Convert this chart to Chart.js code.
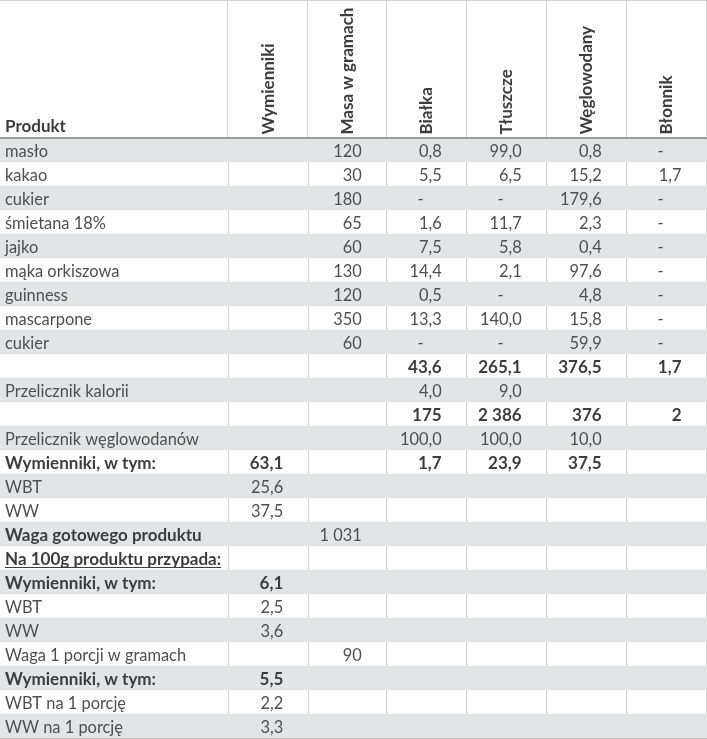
<!DOCTYPE html>
<html><head><meta charset="utf-8">
<script src="https://cdn.jsdelivr.net/npm/chart.js@4.4.1/dist/chart.umd.min.js"></script>
<style>html,body{margin:0;padding:0;background:#fff;overflow:hidden}canvas{display:block}</style>
</head><body>
<canvas id="c" width="707" height="739" style="width:707px;height:739px"></canvas>
<script>
// ---- data ----
const rowLabels = ['masło','kakao','cukier','śmietana 18%','jajko','mąka orkiszowa','guinness','mascarpone','cukier','',
  'Przelicznik kalorii','','Przelicznik węglowodanów','Wymienniki, w tym:','WBT','WW','Waga gotowego produktu',
  'Na 100g produktu przypada:','Wymienniki, w tym:','WBT','WW','Waga 1 porcji w gramach','Wymienniki, w tym:','WBT na 1 porcję','WW na 1 porcję'];
const headers = ['Wymienniki','Masa w gramach','Białka','Tłuszcze','Węglowodany','Błonnik'];
const wymienniki = [null,null,null,null,null,null,null,null,null,null,null,null,null,63.1,25.6,37.5,null,null,6.1,2.5,3.6,null,5.5,2.2,3.3];
const masa = [120,30,180,65,60,130,120,350,60,null,null,null,null,null,null,null,1031,null,null,null,null,90,null,null,null];
const bialka = [0.8,5.5,0,1.6,7.5,14.4,0.5,13.3,0,43.6,4.0,175,100.0,1.7,null,null,null,null,null,null,null,null,null,null,null];
const tluszcze = [99.0,6.5,0,11.7,5.8,2.1,0,140.0,0,265.1,9.0,2386,100.0,23.9,null,null,null,null,null,null,null,null,null,null,null];
const weglowodany = [0.8,15.2,179.6,2.3,0.4,97.6,4.8,15.8,59.9,376.5,null,376,10.0,37.5,null,null,null,null,null,null,null,null,null,null,null];
const blonnik = [0,1.7,0,0,0,0,0,0,0,1.7,null,2,null,null,null,null,null,null,null,null,null,null,null,null,null];
const boldLabelRows = [13,16,17,18,22];
const underlineLabelRows = [17];
const boldValueRows = [9,11,13,18,22];
const integerRows = [11];
const integerColumns = [1];

const columns = [wymienniki, masa, bialka, tluszcze, weglowodany, blonnik];

// ---- layout / style ----
const colEdges = [0, 228.3, 308.3, 386.7, 466.7, 546.7, 626.7, 706.5];
const HEADER_H = 138;
const STRIPE = '#e3e4e6';
const TXT = '#4f4f4f';
const TXT_B = '#3d3d3d';
const GRID = '#d0d0d0';
const DARK = '#808080';

function fmt(v, row, col) {
  if (v === null || v === undefined) return '';
  if (v === 0) return '-';
  const dec = (integerRows.includes(row) || integerColumns.includes(col)) ? 0 : 1;
  let s = v.toFixed(dec);
  let [ip, fp] = s.split('.');
  ip = ip.replace(/\B(?=(\d{3})+(?!\d))/g, ' ');
  return fp ? ip + ',' + fp : ip;
}

const stripeData = rowLabels.map((_, i) => i % 2 === 0 ? [0, 707] : null);

const FAMILY = 'Lato, "Open Sans", sans-serif';

function fitSize(ctx, weight, text, target) {
  ctx.font = weight + ' 16px ' + FAMILY;
  return 16 * target / ctx.measureText(text).width;
}

const tablePlugin = {
  id: 'tableText',
  afterDatasetsDraw(chart) {
    const ctx = chart.ctx;
    const x = chart.scales.x, y = chart.scales.y;
    ctx.save();
    const fN = fitSize(ctx, 'normal', 'Przelicznik węglowodanów', 194).toFixed(2) + 'px ' + FAMILY;
    const fB = 'bold ' + fitSize(ctx, 'bold', 'Wymienniki, w tym:', 151).toFixed(2) + 'px ' + FAMILY;
    const fH = 'bold ' + fitSize(ctx, 'bold', 'Masa w gramach', 127).toFixed(2) + 'px ' + FAMILY;

    // header lines
    ctx.strokeStyle = GRID; ctx.lineWidth = 1;
    ctx.beginPath();
    ctx.moveTo(0, 0.5); ctx.lineTo(707, 0.5);
    for (let k = 1; k < colEdges.length; k++) {
      const px = Math.round(x.getPixelForValue(colEdges[k])) - 0.5;
      ctx.moveTo(px, 0); ctx.lineTo(px, chart.chartArea.top);
    }
    ctx.stroke();
    ctx.strokeStyle = DARK; ctx.lineWidth = 1.5;
    ctx.beginPath();
    ctx.moveTo(0, chart.chartArea.top); ctx.lineTo(707, chart.chartArea.top);
    ctx.stroke();

    // header texts
    ctx.fillStyle = TXT_B;
    ctx.font = fH;
    ctx.textAlign = 'left'; ctx.textBaseline = 'alphabetic';
    ctx.fillText('Produkt', x.getPixelForValue(0) + 5, chart.chartArea.top - 6.5);
    headers.forEach((h, j) => {
      const cx = (x.getPixelForValue(colEdges[j + 1]) + x.getPixelForValue(colEdges[j + 2])) / 2;
      ctx.save();
      ctx.translate(cx, chart.chartArea.top - 3.5);
      ctx.rotate(-Math.PI / 2);
      ctx.textAlign = 'left'; ctx.textBaseline = 'middle';
      ctx.fillText(h, 0, 0);
      ctx.restore();
    });

    // body
    rowLabels.forEach((lab, i) => {
      const cy = y.getPixelForValue(i) + 7;
      if (lab) {
        const b = boldLabelRows.includes(i);
        ctx.font = b ? fB : fN;
        ctx.fillStyle = b ? TXT_B : TXT;
        ctx.textAlign = 'left';
        const lx = x.getPixelForValue(0) + 5;
        ctx.fillText(lab, lx, cy);
        if (underlineLabelRows.includes(i)) {
          const tw = ctx.measureText(lab).width;
          ctx.strokeStyle = ctx.fillStyle; ctx.lineWidth = 1.2;
          ctx.beginPath(); ctx.moveTo(lx, cy + 2.5); ctx.lineTo(lx + tw, cy + 2.5); ctx.stroke();
        }
      }
      columns.forEach((arr, j) => {
        const s = fmt(arr[i], i, j);
        if (!s) return;
        const b = boldValueRows.includes(i);
        ctx.font = b ? fB : fN;
        ctx.fillStyle = b ? TXT_B : TXT;
        ctx.textAlign = 'right';
        const right = x.getPixelForValue(colEdges[j + 2]);
        ctx.fillText(s, right - (s === '-' ? 43 : 25), cy);
      });
    });
    ctx.restore();
  }
};

new Chart(document.getElementById('c'), {
  type: 'bar',
  data: {
    labels: rowLabels,
    datasets: [{
      data: stripeData,
      backgroundColor: STRIPE,
      borderWidth: 0,
      barPercentage: 1,
      categoryPercentage: 1
    }]
  },
  options: {
    indexAxis: 'y',
    responsive: false,
    animation: false,
    events: [],
    layout: { padding: { top: HEADER_H, bottom: 1, left: 0, right: 0 } },
    plugins: { legend: { display: false }, tooltip: { enabled: false } },
    scales: {
      x: {
        type: 'linear', min: 0, max: 707,
        afterBuildTicks: s => { s.ticks = colEdges.slice(1).map(v => ({ value: v })); },
        ticks: { display: false },
        grid: { color: GRID, lineWidth: 1, drawTicks: false, tickLength: 0 },
        border: { display: true, color: DARK, width: 1.5 }
      },
      y: { display: false, offset: true }
    }
  },
  plugins: [tablePlugin]
});
</script>
</body></html>
